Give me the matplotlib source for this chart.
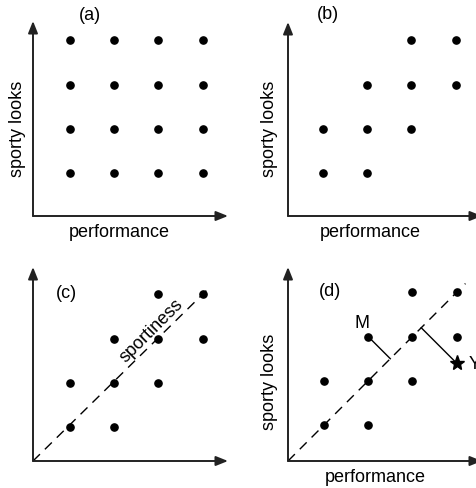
import numpy as np
import matplotlib.pyplot as plt

plt.rcParams['font.family'] = ['Liberation Sans', 'DejaVu Sans']

# 4x4 grid of cars (panel a)
grid_x = [0, 1, 2, 3, 0, 1, 2, 3, 0, 1, 2, 3, 0, 1, 2, 3]
grid_y = [0, 0, 0, 0, 1, 1, 1, 1, 2, 2, 2, 2, 3, 3, 3, 3]
# correlated cars (panels b, c, d)
band_x = [0, 1, 0, 1, 2, 1, 2, 3, 2, 3]
band_y = [0, 0, 1, 1, 1, 2, 2, 2, 3, 3]
# the new car Y and the car M in panel d
car_M = (1, 2)
car_Y = (3, 1.4)
diag_end_c = 3.12
diag_end_d = 3.2

W, H = 476, 489
U = 44.2  # pixels per grid step
AXC = '#222222'

fig = plt.figure(figsize=(W / 100, H / 100), dpi=100)


def panel(ox, oy, xt, yt, col0, row0):
    ax = fig.add_axes([ox / W, 1 - oy / H, (xt - ox) / W, (oy - yt) / H])
    x0, x1 = (ox - col0) / U, (xt - col0) / U
    y0, y1 = (row0 - oy) / U, (row0 - yt) / U
    ax.set_xlim(x0, x1)
    ax.set_ylim(y0, y1)
    ax.axis('off')
    ap = dict(arrowstyle='-|>,head_length=0.55,head_width=0.22', lw=1.4,
              color=AXC, mutation_scale=13, shrinkA=0, shrinkB=0)
    ax.annotate('', xy=(x1, y0), xytext=(x0, y0), arrowprops=ap,
                annotation_clip=False)
    ax.annotate('', xy=(x0, y1), xytext=(x0, y0), arrowprops=ap,
                annotation_clip=False)

    def txt(px, py, s, **kw):
        ax.text((px - col0) / U, (row0 - py) / U, s, ha='center', va='center',
                fontsize=13, clip_on=False, **kw)
    return ax, txt


dot = dict(ls='none', marker='o', ms=5.2, color='black', clip_on=False)

# (a)
ax, txt = panel(33, 217, 228, 22, 70, 174)
ax.plot(grid_x, grid_y, **dot)
txt(90, 15, '(a)')
txt(17, 129, 'sporty looks', rotation=90)
txt(119, 233, 'performance')

# (b)
ax, txt = panel(288, 217, 482, 23, 323, 174)
ax.plot(band_x, band_y, **dot)
txt(328, 15, '(b)')
txt(269, 129, 'sporty looks', rotation=90)
txt(370, 233, 'performance')

# (c)
ax, txt = panel(33, 462, 228, 268, 70, 428)
x0, y0 = ax.get_xlim()[0], ax.get_ylim()[0]
ax.plot([x0, diag_end_c], [y0, diag_end_c], color='black', lw=1,
        dashes=(7, 5))
ax.plot(band_x, band_y, **dot)
txt(66, 294, '(c)')
txt(152, 331, 'sportiness', rotation=45, rotation_mode='anchor')

# (d)
ax, txt = panel(288, 462, 482, 268, 324, 426)
x0, y0 = ax.get_xlim()[0], ax.get_ylim()[0]
ax.plot([x0, diag_end_d], [y0, diag_end_d], color='black', lw=1,
        dashes=(7, 5))
ax.plot(band_x, band_y, **dot)
for cx, cy in (car_M, car_Y):
    foot = (cx + cy) / 2
    ax.plot([cx, foot], [cy, foot], color='black', lw=1)
ax.plot(*car_Y, marker='*', ms=11, color='black', ls='none')
txt(330, 292, '(d)')
txt(362, 324, 'M')
ax.text(car_Y[0] + 12 / U, car_Y[1], 'Y', ha='left', va='center',
        fontsize=13, clip_on=False)
txt(269, 382, 'sporty looks', rotation=90)
txt(375, 478, 'performance')

fig.savefig('out.png', dpi=100)
